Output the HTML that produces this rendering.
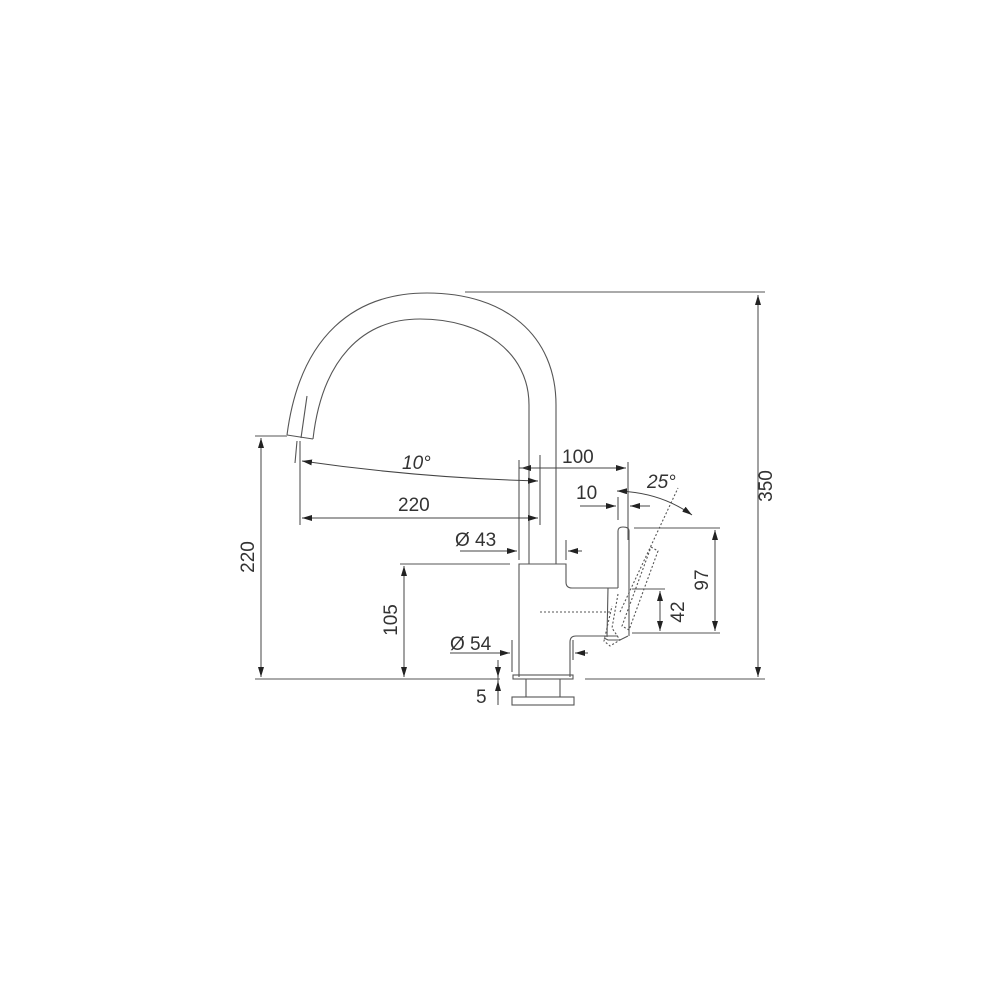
<!DOCTYPE html>
<html><head><meta charset="utf-8"><style>
html,body{margin:0;padding:0;background:#fff;width:1000px;height:1000px;overflow:hidden}
svg{display:block}
text{font-family:"Liberation Sans",Arial,sans-serif;font-size:19px;fill:#333}
</style></head><body>
<svg width="1000" height="1000" viewBox="0 0 1000 1000">
<defs>
<marker id="a" viewBox="0 0 10 6" refX="10" refY="3" markerWidth="10" markerHeight="6" orient="auto-start-reverse" markerUnits="userSpaceOnUse"><path d="M0,0 L10,3 L0,6 z" fill="#222"/></marker>
</defs>
<g fill="none" stroke="#555" stroke-width="1.1">
<!-- spout -->
<path d="M556,564 L556,405 C556,335 505,293 427,293 C355,293 300,335 287,435"/>
<path d="M529,564 L529,405 C529,352 482,319 420,319 C362,319 322,360 313,439"/>
<path d="M287,435 L313,439"/>
<path d="M307,396 L301,438"/>
<path d="M297,441 L295,463"/>
<!-- body -->
<path d="M519,677 L519,564 L566,564 L566,582 Q566,588 572,588 L618,588"/>
<path d="M618,636 L576,636 Q570,636 570,642 L570,677"/>
<rect x="513" y="675" width="60" height="4"/>
<path d="M526,679 L526,697 M560,679 L560,697"/>
<rect x="512" y="697" width="62" height="8"/>
<!-- lever -->
<path d="M618,588 L618,531 Q618,527 623,527 Q629,527 629,531 L629,636"/>
<path d="M608,588 L607,637" />
<path d="M628,636 L620,640 L608,640 L604,638"/>
<!-- dashed lever -->
<g stroke-dasharray="2,2">
<path d="M651,547 L658,551 L629,630 L622,626 Z"/>
<path d="M618,594 L612,628 L620,640 L610,646 L604,641 L612,606"/>
<path d="M540,612 L612,612"/>
<path d="M620,612 L678,488"/>
</g>
<!-- extension lines -->
<path d="M465,292 L765,292"/>
<path d="M255,679 L500,679 M585,679 L765,679"/>
<path d="M255,436 L287,436"/>
<path d="M400,564 L510,564"/>
<path d="M634,528 L720,528 M632,633 L720,633 M632,589 L665,589"/>
<path d="M300,441 L300,525"/>
<path d="M540,455 L540,525"/>
<path d="M628,462 L628,540"/>
<path d="M618,497 L618,520"/>
<path d="M519,460 L519,560"/>
<path d="M566,540 L566,560"/>
<path d="M512,640 L512,672 M573,640 L573,660"/>
<path d="M498,665 L498,705"/>
<path d="M490,679 L498,679"/>
</g>
<g fill="none" stroke="#444" stroke-width="1">
<path d="M758,295 L758,677" marker-start="url(#a)" marker-end="url(#a)"/>
<path d="M261,438 L261,677" marker-start="url(#a)" marker-end="url(#a)"/>
<path d="M404,566 L404,677" marker-start="url(#a)" marker-end="url(#a)"/>
<path d="M715,530 L715,631" marker-start="url(#a)" marker-end="url(#a)"/>
<path d="M660,591 L660,631" marker-start="url(#a)" marker-end="url(#a)"/>
<path d="M302,518 L538,518" marker-start="url(#a)" marker-end="url(#a)"/>
<path d="M302,461 Q420,478 538,481" marker-start="url(#a)" marker-end="url(#a)"/>
<path d="M521,468 L626,468" marker-start="url(#a)" marker-end="url(#a)"/>
<path d="M528,468 L519,468" />
<path d="M580,506 L616,506" marker-end="url(#a)"/>
<path d="M650,506 L630,506" marker-end="url(#a)"/>
<path d="M460,551 L517,551" marker-end="url(#a)"/>
<path d="M582,551 L568,551" marker-end="url(#a)"/>
<path d="M450,653 L510,653" marker-end="url(#a)"/>
<path d="M588,653 L575,653" marker-end="url(#a)"/>
<path d="M498,660 L498,677" marker-end="url(#a)"/>
<path d="M498,700 L498,681" marker-end="url(#a)"/>
<path d="M617,491 Q660,492 692,515" marker-start="url(#a)" marker-end="url(#a)"/>
</g>
<text x="562" y="463">100</text>
<text x="402" y="469" font-style="italic">10°</text>
<text x="398" y="511">220</text>
<text x="455" y="546">Ø 43</text>
<text x="576" y="499">10</text>
<text x="647" y="488" font-style="italic">25°</text>
<text x="450" y="650">Ø 54</text>
<text x="476" y="703">5</text>
<text transform="translate(772,486) rotate(-90)" text-anchor="middle">350</text>
<text transform="translate(708,580) rotate(-90)" text-anchor="middle">97</text>
<text transform="translate(684,612) rotate(-90)" text-anchor="middle">42</text>
<text transform="translate(254,557) rotate(-90)" text-anchor="middle">220</text>
<text transform="translate(397,620) rotate(-90)" text-anchor="middle">105</text>
</svg>
</body></html>
